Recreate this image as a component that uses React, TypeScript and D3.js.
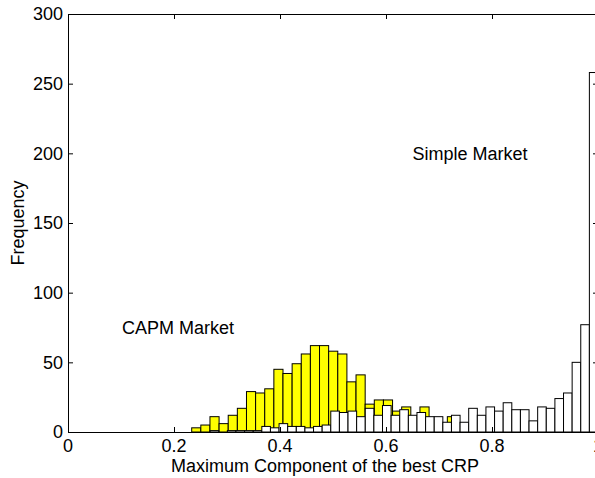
import React from "react";
import * as d3 from "d3";

// ---- data ----
const xTicks = [0, 0.2, 0.4, 0.6, 0.8, 1];
const xTickLabels = ["0", "0.2", "0.4", "0.6", "0.8", "1"];
const yTicks = [0, 50, 100, 150, 200, 250, 300];
const yTickLabels = ["0", "50", "100", "150", "200", "250", "300"];

// CAPM Market histogram (yellow)
const capmStart = 0.2334;
const capmBinWidth = 0.017226;
const capmCounts = [3, 5, 11, 6, 12, 17, 29, 28, 31, 45, 42, 49, 56, 62, 62, 58, 56, 36, 41, 20, 23, 23, 15, 18, 10, 18, 9, 6, 11, 4, 2, 3, 1, 1];

// Simple Market histogram (white)
const simpleEnd = 1.0;
const simpleBinWidth = 0.016264;
const simpleCounts = [1, 0, 1, 1, 1, 1, 4, 3, 6, 4, 4, 3, 4, 5, 15, 14, 15, 11, 17, 12, 19, 12, 16, 12, 14, 11, 11, 7, 12, 7, 17, 12, 18, 15, 21, 16, 16, 8, 18, 17, 24, 28, 50, 77, 258];

const xLabel = "Maximum Component of the best CRP";
const yLabel = "Frequency";
const annotations = [
  { text: "Simple Market", x: 0.65, y: 195 },
  { text: "CAPM Market", x: 0.102, y: 70 },
];

const W = 595;
const H = 478;
const FONT = "'Liberation Sans', Arial, Helvetica, sans-serif";
const FS = 18;

export default function App() {
  const x = d3.scaleLinear().domain([0, 1]).range([68, 598]);
  const y = d3.scaleLinear().domain([0, 300]).range([432, 14]);

  const capmBins = capmCounts.map((c, i) => ({
    x0: capmStart + i * capmBinWidth,
    x1: capmStart + (i + 1) * capmBinWidth,
    c,
  }));
  const simpleStart = simpleEnd - simpleCounts.length * simpleBinWidth;
  const simpleBins = simpleCounts.map((c, i) => ({
    x0: simpleStart + i * simpleBinWidth,
    x1: simpleStart + (i + 1) * simpleBinWidth,
    c,
  }));

  const [x0, x1] = x.range();
  const [yb, yt] = y.range();
  const tickLen = 5;

  return (
    <svg
      width={W}
      height={H}
      style={{ position: "absolute", left: 0, top: 0, background: "#fff" }}
      fontFamily={FONT}
      fontSize={FS}
    >
      <rect x={0} y={0} width={W} height={H} fill="#fff" />
      {/* bars */}
      <g stroke="#000" strokeWidth={1}>
        {capmBins.filter((b) => b.c > 0).map((b, i) => (
          <rect
            key={"c" + i}
            x={x(b.x0)}
            y={y(b.c)}
            width={x(b.x1) - x(b.x0)}
            height={y(0) - y(b.c)}
            fill="#ffff00"
          />
        ))}
        {simpleBins.filter((b) => b.c > 0).map((b, i) => (
          <rect
            key={"s" + i}
            x={x(b.x0)}
            y={y(b.c)}
            width={x(b.x1) - x(b.x0)}
            height={y(0) - y(b.c)}
            fill="#ffffff"
          />
        ))}
      </g>
      {/* axes box */}
      <g stroke="#000" strokeWidth={1} fill="none">
        <line x1={x0} x2={x1} y1={yb + 0.5} y2={yb + 0.5} />
        <line x1={x0} x2={x1} y1={yt + 0.5} y2={yt + 0.5} />
        <line x1={x0 + 0.5} x2={x0 + 0.5} y1={yt} y2={yb} />
        <line x1={x1 - 0.5} x2={x1 - 0.5} y1={yt} y2={yb} />
        {xTicks.map((t, i) => (
          <g key={"xt" + i}>
            <line x1={x(t) + 0.5} x2={x(t) + 0.5} y1={yb} y2={yb - tickLen} />
            <line x1={x(t) + 0.5} x2={x(t) + 0.5} y1={yt} y2={yt + tickLen} />
          </g>
        ))}
        {yTicks.map((t, i) => (
          <g key={"yt" + i}>
            <line x1={x0} x2={x0 + tickLen} y1={y(t) + 0.5} y2={y(t) + 0.5} />
            <line x1={x1} x2={x1 - tickLen} y1={y(t) + 0.5} y2={y(t) + 0.5} />
          </g>
        ))}
      </g>
      {/* tick labels */}
      <g fill="#000">
        {xTicks.map((t, i) => (
          <text key={"xl" + i} x={x(t)} y={452} textAnchor="middle">
            {xTickLabels[i]}
          </text>
        ))}
        {yTicks.map((t, i) => (
          <text key={"yl" + i} x={63} y={y(t) + 6.4} textAnchor="end">
            {yTickLabels[i]}
          </text>
        ))}
        <text x={(x0 + x1) / 2 - 8} y={472} textAnchor="middle">
          {xLabel}
        </text>
        <text
          transform={`translate(24, ${(yt + yb) / 2}) rotate(-90)`}
          textAnchor="middle"
        >
          {yLabel}
        </text>
        {annotations.map((a, i) => (
          <text key={"a" + i} x={x(a.x)} y={y(a.y)}>
            {a.text}
          </text>
        ))}
      </g>
    </svg>
  );
}
